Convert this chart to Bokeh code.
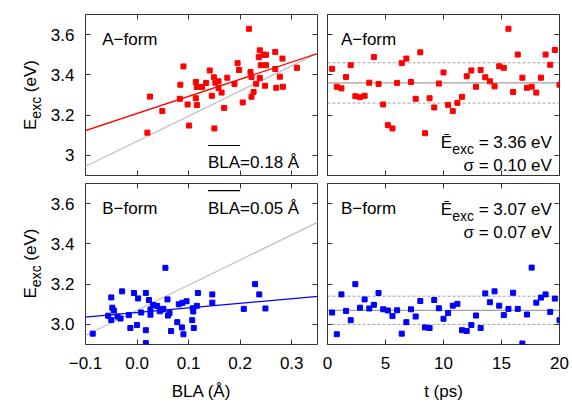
import math
from bokeh.plotting import figure
from bokeh.layouts import gridplot
from bokeh.models import (Label, Slope, Span, BoxAnnotation, LinearAxis,
                          FixedTicker, Range1d, CustomLabelingPolicy)
from bokeh.embed import file_html
from bokeh.resources import INLINE

# ---------------- data ----------------
a_bla = [0.020, 0.025, 0.049, 0.083, 0.084, 0.090, 0.098, 0.101, 0.114, 0.114,
         0.116, 0.116, 0.126, 0.134, 0.141, 0.145, 0.149, 0.150, 0.152, 0.158,
         0.158, 0.164, 0.169, 0.175, 0.189, 0.195, 0.198, 0.205, 0.217, 0.220,
         0.222, 0.222, 0.226, 0.231, 0.236, 0.238, 0.238, 0.240, 0.246, 0.248,
         0.250, 0.250, 0.268, 0.268, 0.270, 0.277, 0.282, 0.283, 0.310]
a_e_bla = [3.113, 3.292, 3.220, 3.281, 3.351, 3.442, 3.253, 3.148, 3.365, 3.284,
           3.340, 3.250, 3.340, 3.360, 3.422, 3.296, 3.388, 3.134, 3.361, 3.368,
           3.334, 3.312, 3.236, 3.386, 3.355, 3.458, 3.424, 3.263, 3.629, 3.414,
           3.389, 3.291, 3.315, 3.356, 3.488, 3.522, 3.384, 3.448, 3.500, 3.346,
           3.500, 3.448, 3.514, 3.429, 3.336, 3.391, 3.481, 3.341, 3.435]

b_bla = [-0.086, -0.056, -0.050, -0.050, -0.048, -0.045, -0.038, -0.032, -0.029, -0.016,
         -0.013, -0.006, 0.000, 0.002, 0.008, 0.017, 0.017, 0.017, 0.023, 0.026,
         0.026, 0.031, 0.039, 0.044, 0.049, 0.051, 0.055, 0.059, 0.060, 0.063,
         0.066, 0.078, 0.081, 0.087, 0.088, 0.090, 0.096, 0.107, 0.108, 0.109,
         0.110, 0.116, 0.118, 0.146, 0.146, 0.207, 0.229, 0.237, 0.249]
b_e_bla = [2.954, 3.043, 3.134, 3.021, 3.083, 3.069, 3.039, 3.029, 3.164, 3.046,
           2.982, 3.156, 2.997, 3.129, 3.059, 3.156, 2.971, 2.907, 3.121, 3.048,
           3.074, 3.097, 3.092, 3.065, 3.074, 3.077, 3.281, 3.124, 3.044, 3.056,
           2.967, 3.011, 3.100, 2.985, 3.107, 2.951, 3.115, 3.021, 3.080, 3.064,
           2.982, 3.092, 3.156, 3.149, 3.108, 3.077, 3.200, 3.149, 3.079]

t_ps = [0.4, 0.8, 1.2, 1.6, 2.0, 2.4, 2.8, 3.2, 3.6, 4.0,
        4.4, 4.8, 5.2, 5.6, 6.0, 6.4, 6.8, 7.2, 7.6, 8.0,
        8.4, 8.8, 9.2, 9.6, 10.0, 10.4, 10.8, 11.2, 11.6, 12.0,
        12.4, 12.8, 13.2, 13.6, 14.0, 14.4, 14.8, 15.2, 15.6, 16.0,
        16.4, 16.8, 17.2, 17.6, 18.0, 18.4, 18.8, 19.2, 19.6, 20.0]
a_e_t = [3.430, 3.341, 3.333, 3.389, 3.448, 3.294, 3.289, 3.296, 3.361, 3.489,
         3.355, 3.253, 3.150, 3.134, 3.360, 3.458, 3.481, 3.365, 3.281, 3.512,
         3.110, 3.284, 3.238, 3.357, 3.412, 3.251, 3.220, 3.261, 3.291, 3.393,
         3.422, 3.341, 3.424, 3.388, 3.368, 3.343, 3.443, 3.435, 3.629, 3.315,
         3.501, 3.386, 3.336, 3.341, 3.312, 3.386, 3.501, 3.450, 3.524, 3.351]
b_e_t = [3.059, 2.951, 3.149, 3.067, 3.021, 3.200, 3.083, 3.124, 3.079, 3.097,
         3.156, 3.075, 3.069, 3.041, 3.070, 2.954, 3.011, 3.075, 3.039, 3.116,
         2.985, 2.982, 3.121, 3.080, 3.028, 3.056, 3.093, 3.102, 2.971, 2.967,
         2.997, 3.044, 2.982, 3.154, 3.110, 3.164, 3.093, 3.046, 3.077, 3.157,
         3.077, 2.905, 3.049, 3.282, 3.108, 3.133, 3.149, 3.062, 3.128, 3.021]

a_fit = (0.851, 3.208)      # slope, intercept of red fit
b_fit = (0.229, 3.059)      # slope, intercept of blue fit
ref_fit = (1.25, 3.07)      # grey reference line
a_mean, a_sigma, a_bla_mean = 3.36, 0.10, 0.18
b_mean, b_sigma, b_bla_mean = 3.07, 0.07, 0.05

bla_ticks = [-0.1, 0.0, 0.1, 0.2, 0.3]
bla_tick_labels = ["\u22120.1", "0.0", "0.1", "0.2", "0.3"]
t_ticks = [0, 5, 10, 15, 20]
t_tick_labels = ["0", "5", "10", "15", "20"]
e_ticks = [3.0, 3.2, 3.4, 3.6]
e_tick_labels_top = ["3", "3.2", "3.4", "3.6"]
e_tick_labels_bottom = ["3.0", "3.2", "3.4", "3.6"]

# ---------------- styling ----------------
FONT = "Liberation Sans"
FS = 17
SUB = 14
TICK = "#333333"
RED = "#ff0000"
BLUE = "#0000ff"
GREY = "#c0c0c0"
MEANC = "#a0a0a0"

ARIAL = {' ': .278, '=': .584, '.': .278, 'e': .556, 'V': .667, 'x': .5, 'c': .5,
         'E': .667, '\u0112': .667, 'B': .667, 'L': .556, 'A': .667, '\u00c5': .667,
         '(': .333, ')': .333, 'p': .556, 's': .5, 't': .278}


def tw(s, size):
    return sum(ARIAL.get(ch, .556) for ch in s) * size


def no_labels():
    return CustomLabelingPolicy(
        code="for (const i of Array.from(indices)) { indices.unset(i) } return indices")


def style_axis(ax, ticks, labels):
    ax.ticker = FixedTicker(ticks=ticks, minor_ticks=[])
    ax.axis_line_color = None
    ax.major_tick_in = 5
    ax.major_tick_out = 0
    ax.minor_tick_in = 0
    ax.minor_tick_out = 0
    ax.major_tick_line_color = TICK
    if labels is None:
        ax.major_label_text_font_size = "0px"
        ax.major_label_standoff = 0
        ax.major_label_policy = no_labels()
    else:
        ax.major_label_overrides = {tk: lb for tk, lb in zip(ticks, labels)}
        ax.major_label_text_font = FONT
        ax.major_label_text_font_size = f"{FS}px"
        ax.major_label_text_color = "black"


def make_fig(xr, yr, w, h, bl, br, bt, bb, xt, xl, yt, yl, xname=None):
    p = figure(width=w, height=h, x_range=Range1d(*xr), y_range=Range1d(*yr),
               output_backend="svg", toolbar_location=None,
               min_border_left=bl, min_border_right=br,
               min_border_top=bt, min_border_bottom=bb)
    p.xgrid.visible = False
    p.ygrid.visible = False
    p.outline_line_color = TICK
    p.outline_line_width = 1
    p.background_fill_color = "white"
    p.border_fill_color = "white"
    xb = p.below[0]
    yl_ax = p.left[0]
    style_axis(xb, xt, xl)
    style_axis(yl_ax, yt, yl)
    xb.major_label_standoff = 12 if xl is not None else 0
    yl_ax.major_label_standoff = 11 if yl is not None else 0
    if xname is not None:
        xb.axis_label = xname
        xb.axis_label_text_font = FONT
        xb.axis_label_text_font_size = f"{FS}px"
        xb.axis_label_text_font_style = "normal"
        xb.axis_label_text_color = "black"
        xb.axis_label_standoff = 10
    for ticks, side in ((xt, "above"), (yt, "right")):
        ax = LinearAxis()
        style_axis(ax, ticks, None)
        p.add_layout(ax, side)
    return p


def blank_fig(w, h):
    p = figure(width=w, height=h, x_range=Range1d(0, 1), y_range=Range1d(0, 1),
               output_backend="svg", toolbar_location=None,
               x_axis_location=None, y_axis_location=None, min_border=0)
    p.xgrid.visible = False
    p.ygrid.visible = False
    p.outline_line_color = None
    p.border_fill_color = "white"
    p.background_fill_color = "white"
    return p


def lab(p, x, y, text, size=FS, align="left", angle=0.0):
    p.add_layout(Label(x=x, y=y, x_units="screen", y_units="screen", text=text,
                       text_font=FONT, text_font_size=f"{size}px",
                       text_align=align, text_baseline="alphabetic",
                       angle=angle, text_color="black"))


def overline_text(p, xr, y, value_str):
    s = f"BLA={value_str} \u00c5"
    lab(p, xr, y, s, align="right")
    x0 = xr - tw(s, FS)
    x1 = x0 + tw("BLA", FS)
    yo = y + 17.3
    p.add_layout(BoxAnnotation(left=x0, right=x1, bottom=yo - 0.5, top=yo + 0.6,
                               left_units="screen", right_units="screen",
                               bottom_units="screen", top_units="screen",
                               fill_color="black", fill_alpha=1.0, line_color=None))


def mean_text(p, xr, y, mean, sigma):
    tail = f"= {mean:.2f} eV"
    lab(p, xr, y, tail, align="right")
    x_sub_r = xr - tw(tail, FS) - tw(" ", FS)
    lab(p, x_sub_r, y - 6, "exc", size=SUB, align="right")
    lab(p, x_sub_r - tw("exc", SUB), y, "\u0112", align="right")
    lab(p, xr, y - 23, f"\u03c3 = {sigma:.2f} eV", align="right")


def ylab(p, center_from_bottom):
    a = math.pi / 2
    total = tw("E", FS) + tw("exc", SUB) + tw(" (eV)", FS)
    y0 = center_from_bottom - total / 2
    lab(p, 29.5, y0, "E", angle=a)
    lab(p, 35.0, y0 + tw("E", FS), "exc", size=SUB, angle=a)
    lab(p, 29.5, y0 + tw("E", FS) + tw("exc", SUB) + tw(" ", FS), "(eV)", angle=a)


e_range = (2.9, 3.7)
bla_range = (-0.1, 0.35)
t_range = (0, 20)

TOP_H, BOT_H, YL_W = 179, 224, 46
LB = 85 - YL_W   # left border of the left panels so the frames start at x=85

yl1 = blank_fig(YL_W, TOP_H)
yl3 = blank_fig(YL_W, BOT_H)
# top-left
p1 = make_fig(bla_range, e_range, LB + 237, TOP_H, LB, 5, 14, 4,
              bla_ticks, None, e_ticks, e_tick_labels_top)
# top-right
p2 = make_fig(t_range, e_range, 250, TOP_H, 5, 13, 14, 4,
              t_ticks, None, e_ticks, None)
# bottom-left
p3 = make_fig(bla_range, e_range, LB + 237, BOT_H, LB, 5, 4, 58,
              bla_ticks, bla_tick_labels, e_ticks, e_tick_labels_bottom,
              xname="BLA (\u00c5)")
# bottom-right
p4 = make_fig(t_range, e_range, 250, BOT_H, 5, 13, 4, 58,
              t_ticks, t_tick_labels, e_ticks, None, xname="t (ps)")

for p, (m, c), col in ((p1, a_fit, RED), (p3, b_fit, BLUE)):
    p.add_layout(Slope(gradient=ref_fit[0], y_intercept=ref_fit[1],
                       line_color=GREY, line_width=1.2, level="underlay"))
    p.add_layout(Slope(gradient=m, y_intercept=c, line_color=col,
                       line_width=1.3, level="underlay"))

for p, mu, sg in ((p2, a_mean, a_sigma), (p4, b_mean, b_sigma)):
    p.add_layout(Span(location=mu, dimension="width", line_color=MEANC,
                      line_width=1.2, level="underlay"))
    for loc in (mu - sg, mu + sg):
        p.add_layout(Span(location=loc, dimension="width", line_color=MEANC,
                          line_width=1, line_dash="3 2", level="underlay"))

p1.scatter(a_bla, a_e_bla, marker="square", size=5, color=RED)
p2.scatter(t_ps, a_e_t, marker="square", size=5, color=RED)
p3.scatter(b_bla, b_e_bla, marker="square", size=5, color=BLUE)
p4.scatter(t_ps, b_e_t, marker="square", size=5, color=BLUE)

# texts
lab(p1, 16.7, 135.7, "A\u2212form")
lab(p2, 13.4, 135.7, "A\u2212form")
lab(p3, 16.7, 136.5, "B\u2212form")
lab(p4, 13.4, 136.5, "B\u2212form")

overline_text(p1, 213.7, 12.7, f"{a_bla_mean:.2f}")
overline_text(p3, 213.7, 136.5, f"{b_bla_mean:.2f}")

mean_text(p2, 224.4, 33.0, a_mean, a_sigma)
mean_text(p4, 224.4, 134.7, b_mean, b_sigma)

# y-axis titles: frames of these blank figures are aligned with the panel frames
ylab(yl1, 80.5)
ylab(yl3, 81.0)

grid = gridplot([[yl1, p1, p2], [yl3, p3, p4]], toolbar_location=None)

open("out.html", "w").write(file_html(grid, INLINE))
